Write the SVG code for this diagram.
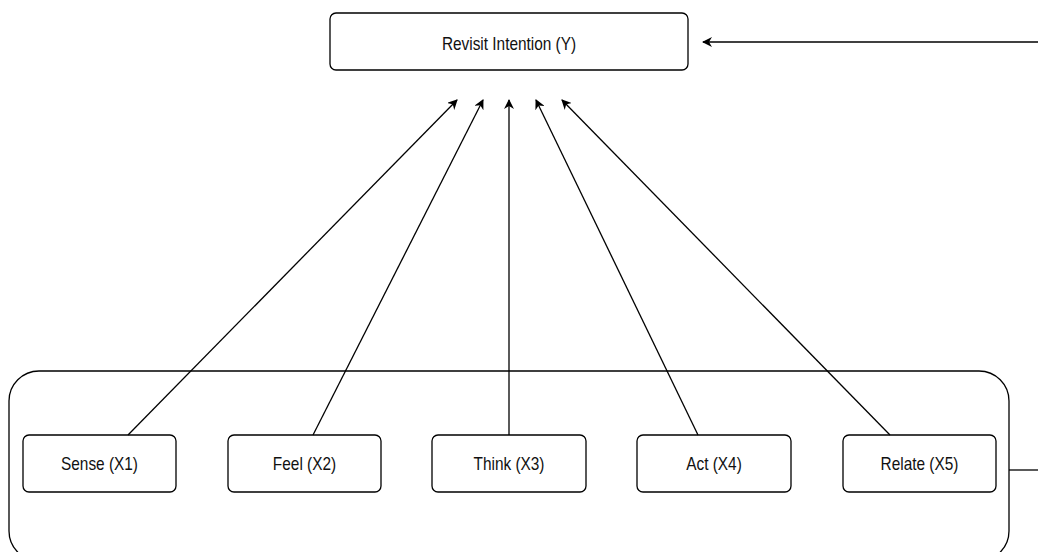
<svg xmlns="http://www.w3.org/2000/svg" width="1038" height="552" viewBox="0 0 1038 552">
<style>
.box{fill:#fff;stroke:#000;stroke-width:1.3}
.lbl{font-family:"Liberation Sans",Arial,sans-serif;font-size:17.5px;fill:#111;text-anchor:middle}
.con{fill:none;stroke:#000;stroke-width:1.3}
</style>
<defs>
<marker id="ah" viewBox="0 0 10 10" refX="9" refY="5" markerWidth="10" markerHeight="10" markerUnits="userSpaceOnUse" orient="auto">
<path d="M0,0 L10,5 L0,10 L3,5 Z" fill="#000"/>
</marker>
</defs>
<rect width="1038" height="552" fill="#fff"/>
<g id="container">
<rect class="box" x="9" y="371" width="1000" height="190" rx="30" ry="30"/>
</g>
<g id="node-y">
<rect class="box" x="330" y="13" width="358" height="57" rx="6"/>
<text class="lbl" transform="translate(509,49.5) scale(0.88,1)">Revisit Intention (Y)</text>
</g>
<g id="node-x1">
<rect class="box" x="23" y="435" width="153" height="57" rx="6"/>
<text class="lbl" transform="translate(99.5,469.5) scale(0.88,1)">Sense (X1)</text>
</g>
<g id="node-x2">
<rect class="box" x="228" y="435" width="153" height="57" rx="6"/>
<text class="lbl" transform="translate(304.5,469.5) scale(0.88,1)">Feel (X2)</text>
</g>
<g id="node-x3">
<rect class="box" x="432" y="435" width="154" height="57" rx="6"/>
<text class="lbl" transform="translate(509,469.5) scale(0.88,1)">Think (X3)</text>
</g>
<g id="node-x4">
<rect class="box" x="637" y="435" width="154" height="57" rx="6"/>
<text class="lbl" transform="translate(714,469.5) scale(0.88,1)">Act (X4)</text>
</g>
<g id="node-x5">
<rect class="box" x="843" y="435" width="153" height="57" rx="6"/>
<text class="lbl" transform="translate(919.5,469.5) scale(0.88,1)">Relate (X5)</text>
</g>
<g id="connectors">
<line class="con" x1="128" y1="435" x2="457" y2="100" marker-end="url(#ah)"/>
<line class="con" x1="313" y1="435" x2="483" y2="100" marker-end="url(#ah)"/>
<line class="con" x1="509" y1="435" x2="509" y2="100" marker-end="url(#ah)"/>
<line class="con" x1="698" y1="435" x2="536" y2="100" marker-end="url(#ah)"/>
<line class="con" x1="890" y1="435" x2="562" y2="100" marker-end="url(#ah)"/>
<line class="con" x1="1038" y1="42" x2="703" y2="42" marker-end="url(#ah)"/>
<line class="con" x1="1009" y1="470" x2="1038" y2="470"/>
</g>
</svg>
